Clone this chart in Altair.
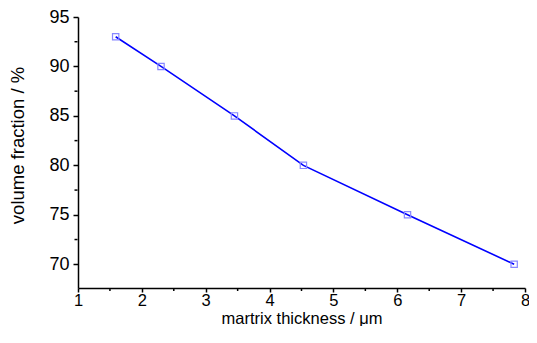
import altair as alt
import pandas as pd

thickness = [1.59, 2.30, 3.45, 4.53, 6.16, 7.83]
fraction = [93, 90, 85, 80, 75, 70]
x_major = [1, 2, 3, 4, 5, 6, 7, 8]
x_minor = [1.5, 2.5, 3.5, 4.5, 5.5, 6.5, 7.5]
y_major = [70, 75, 80, 85, 90, 95]
y_minor = [72.5, 77.5, 82.5, 87.5, 92.5]

df = pd.DataFrame({"t": thickness, "v": fraction})
dfx = pd.DataFrame({"t": x_minor})
dfy = pd.DataFrame({"v": y_minor})

W, H = 447, 271
FONT = "Liberation Sans"
xs = alt.Scale(domain=[1, 8], nice=False, zero=False)
ys = alt.Scale(domain=[67.6, 95], nice=False, zero=False)

base = alt.Chart(df)

line = base.mark_line(color="#0000ff", strokeWidth=1.6).encode(
    x=alt.X("t:Q", scale=xs, title="martrix thickness / \u03bcm",
            axis=alt.Axis(values=x_major, tickSize=4, format="d",
                          labelFontSize=16.5, titleFontSize=16.5,
                          labelFont=FONT, titleFont=FONT, labelColor="black", titleColor="black",
                          domainColor="black", tickColor="black", grid=False, labelPadding=0,
                          titleFontWeight="normal", titleBaseline="alphabetic", titleY=35,
                          domainWidth=1.5, tickWidth=1.5, labelFlush=False)),
    y=alt.Y("v:Q", scale=ys, title="volume fraction / %",
            axis=alt.Axis(values=y_major, tickSize=5, format="d",
                          labelFontSize=18, titleFontSize=18.5,
                          labelFont=FONT, titleFont=FONT, labelColor="black", titleColor="black",
                          domainColor="black", tickColor="black", grid=False, labelPadding=4,
                          titleFontWeight="normal", titleBaseline="middle", titleX=-61, titleY=128,
                          domainWidth=1.5, tickWidth=1.5, labelFlush=False)),
)

pts = base.mark_point(shape="square", filled=False, color="#8888ff", size=40, strokeWidth=1.2, opacity=1).encode(
    x=alt.X("t:Q", scale=xs),
    y=alt.Y("v:Q", scale=ys),
)

xminor = alt.Chart(dfx).mark_rule(color="black", strokeWidth=1.5).encode(
    x=alt.X("t:Q", scale=xs),
    y=alt.value(H + 0.5),
    y2=alt.value(H + 3),
)

yminor = alt.Chart(dfy).mark_rule(color="black", strokeWidth=1.5).encode(
    y=alt.Y("v:Q", scale=ys),
    x=alt.value(-0.5),
    x2=alt.value(-3.5),
)

chart = alt.layer(line, pts, xminor, yminor).properties(
    width=W, height=H,
    autosize=alt.AutoSizeParams(type="none"),
    padding={"left": 70, "top": 9, "right": 4, "bottom": 38},
).configure_view(stroke=None)

chart.save("out.html", embed_options={"renderer": "svg", "actions": False})
